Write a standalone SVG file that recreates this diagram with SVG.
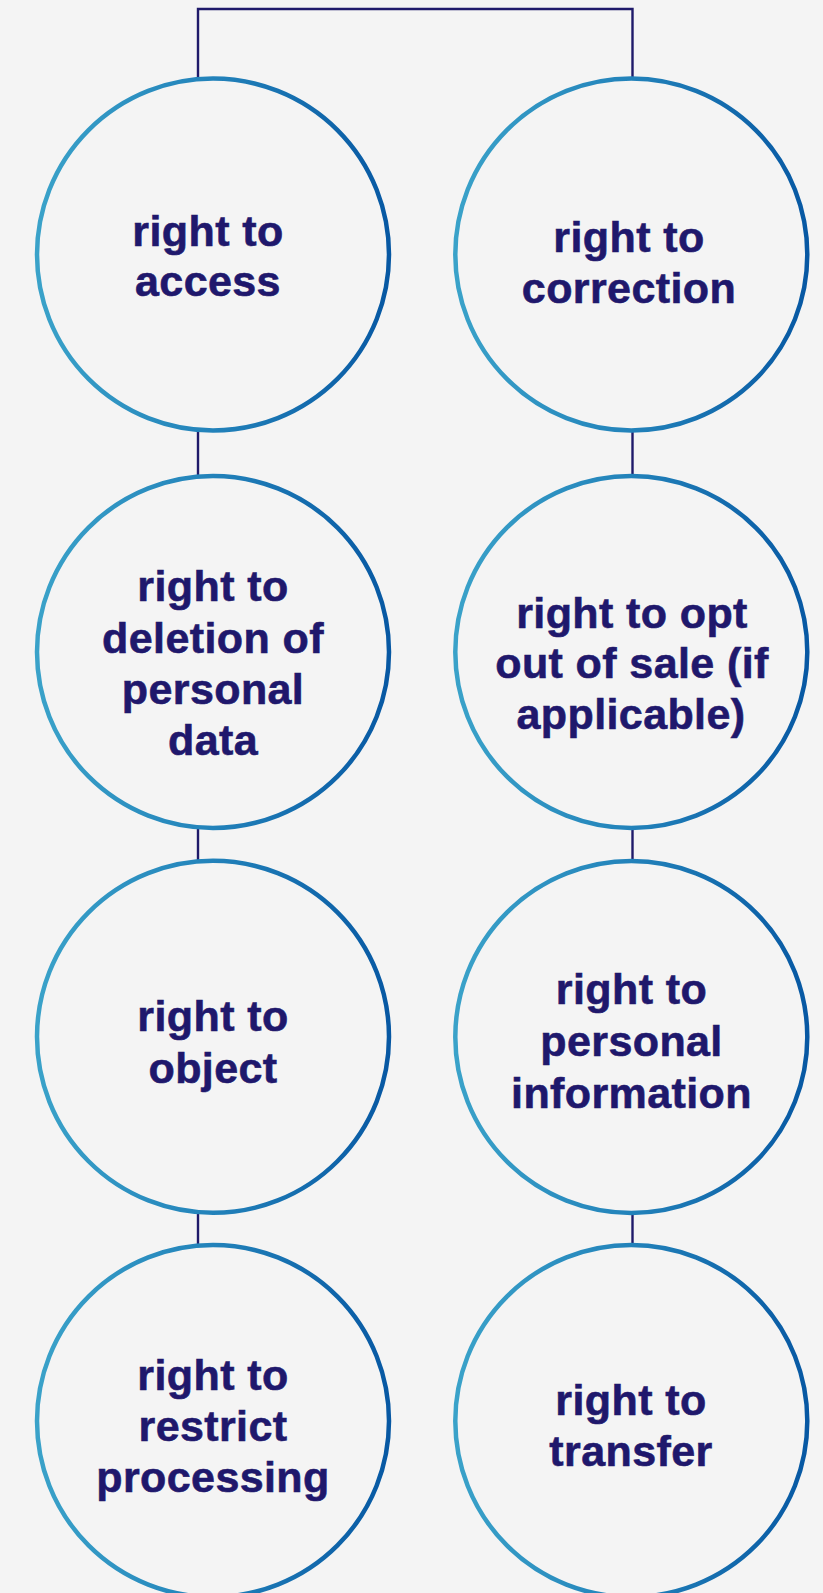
<svg xmlns="http://www.w3.org/2000/svg" width="823" height="1593" viewBox="0 0 823 1593">
<defs>
<linearGradient id="ring" x1="0" y1="0" x2="1" y2="0">
<stop offset="0" stop-color="#3aa2c9"/>
<stop offset="0.5" stop-color="#2282ba"/>
<stop offset="1" stop-color="#0758a3"/>
</linearGradient>
<style>
.node circle{fill:#f4f4f4;stroke:url(#ring);stroke-width:4.5}
.node text{font-family:"Liberation Sans",Arial,Helvetica,sans-serif;font-weight:bold;font-size:43px;letter-spacing:0.4px;fill:#1f186c;stroke:#1f186c;stroke-width:0.6;text-anchor:middle}
.conn{fill:none;stroke:#1f1a6a;stroke-width:2.4}
</style>
</defs>
<rect width="823" height="1593" fill="#f4f4f4"/>
<g id="connectors">
<path class="conn" d="M198 78 V9 H632.5 V78"/>
<path class="conn" d="M198 430 V476"/>
<path class="conn" d="M632.5 430 V476"/>
<path class="conn" d="M198 828 V860"/>
<path class="conn" d="M632.5 828 V860"/>
<path class="conn" d="M198 1213 V1245"/>
<path class="conn" d="M632.5 1213 V1245"/>
</g>
<g id="n-access" class="node">
<circle cx="213" cy="254.5" r="176"/>
<text x="208" y="246">right to</text>
<text x="208" y="296">access</text>
</g>
<g id="n-correction" class="node">
<circle cx="631.3" cy="254.5" r="176"/>
<text x="629" y="252">right to</text>
<text x="629" y="303">correction</text>
</g>
<g id="n-deletion" class="node">
<circle cx="213" cy="652" r="176"/>
<text x="213" y="601">right to</text>
<text x="213" y="652.5">deletion of</text>
<text x="213" y="704">personal</text>
<text x="213" y="754.5">data</text>
</g>
<g id="n-optout" class="node">
<circle cx="631.3" cy="652" r="176"/>
<text x="632" y="627.5">right to opt</text>
<text x="632" y="677.5">out of sale (if</text>
<text x="631" y="728.5">applicable)</text>
</g>
<g id="n-object" class="node">
<circle cx="213" cy="1036.8" r="176"/>
<text x="213" y="1031">right to</text>
<text x="213" y="1082.5">object</text>
</g>
<g id="n-personal-info" class="node">
<circle cx="631.3" cy="1037" r="176"/>
<text x="631.5" y="1004">right to</text>
<text x="631.5" y="1056">personal</text>
<text x="631.5" y="1108">information</text>
</g>
<g id="n-restrict" class="node">
<circle cx="213" cy="1421" r="176"/>
<text x="213" y="1390">right to</text>
<text x="213" y="1441">restrict</text>
<text x="213" y="1492">processing</text>
</g>
<g id="n-transfer" class="node">
<circle cx="631.3" cy="1421" r="176"/>
<text x="631" y="1415">right to</text>
<text x="631" y="1465.5">transfer</text>
</g>
</svg>
